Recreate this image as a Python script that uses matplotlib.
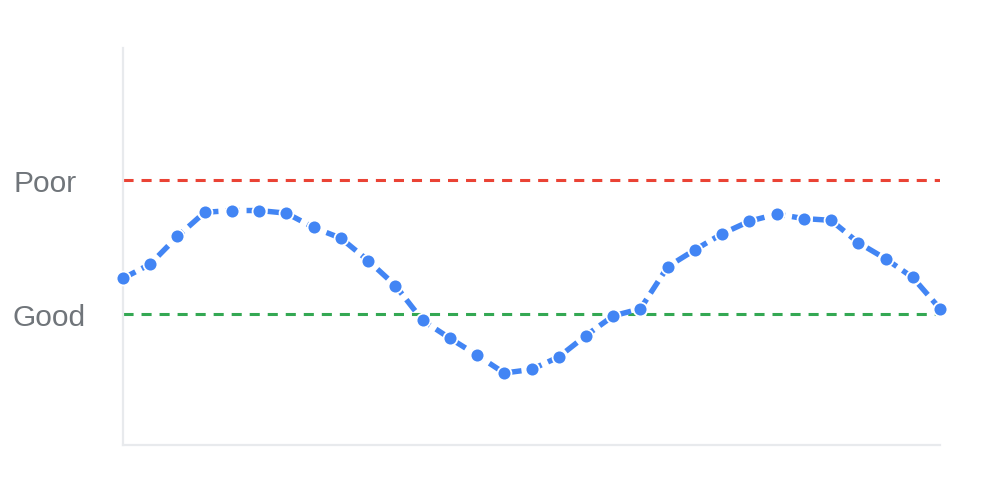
import matplotlib
matplotlib.use('Agg')
import matplotlib.pyplot as plt
import matplotlib.transforms as mtransforms

# readings per sample (same units as the thresholds)
values = [2.90, 3.06, 3.37, 3.64, 3.66, 3.66, 3.63, 3.47, 3.35, 3.10,
          2.82, 2.43, 2.23, 2.04, 1.84, 1.88, 2.02, 2.26, 2.48, 2.56,
          3.03, 3.22, 3.40, 3.54, 3.62, 3.57, 3.55, 3.30, 3.12, 2.91, 2.56]
samples = list(range(len(values)))

threshold_names = ['Poor', 'Good']
threshold_values = [4.0, 2.5]
threshold_colors = ['#ea4335', '#34a853']

plt.rcParams['font.family'] = ['Liberation Sans', 'DejaVu Sans']

fig = plt.figure(figsize=(9.9, 4.95), dpi=100)
ax = fig.add_axes([123 / 990, 50 / 495, 817 / 990, 397 / 495])

# labels sit a bit below the line, baseline ~12px under it
shift = mtransforms.ScaledTranslation(0, -12 / 100, fig.dpi_scale_trans)
trans = mtransforms.blended_transform_factory(fig.transFigure, ax.transData) + shift
for name, val, col in zip(threshold_names, threshold_values, threshold_colors):
    ax.axhline(val, color=col, lw=2.2, dashes=(3.3, 2.6), zorder=2)
    ax.text(13 / 990, val, name, transform=trans, ha='left', va='baseline',
            fontsize=21.5, color='#70757a')

ax.plot(samples, values, color='#4285f4', lw=3.9, dashes=(2.6, 1.3),
        marker='o', markersize=10, markerfacecolor='#4285f4',
        markeredgecolor='white', markeredgewidth=1.3, clip_on=False, zorder=3)

ax.set_xlim(0, len(values) - 1)
ax.set_ylim(1.034, 5.48)
ax.set_xticks([])
ax.set_yticks([])
for side in ['top', 'right']:
    ax.spines[side].set_visible(False)
for side in ['left', 'bottom']:
    ax.spines[side].set_color('#e8eaed')
    ax.spines[side].set_linewidth(1.6)

plt.savefig('out.png', dpi=100)
